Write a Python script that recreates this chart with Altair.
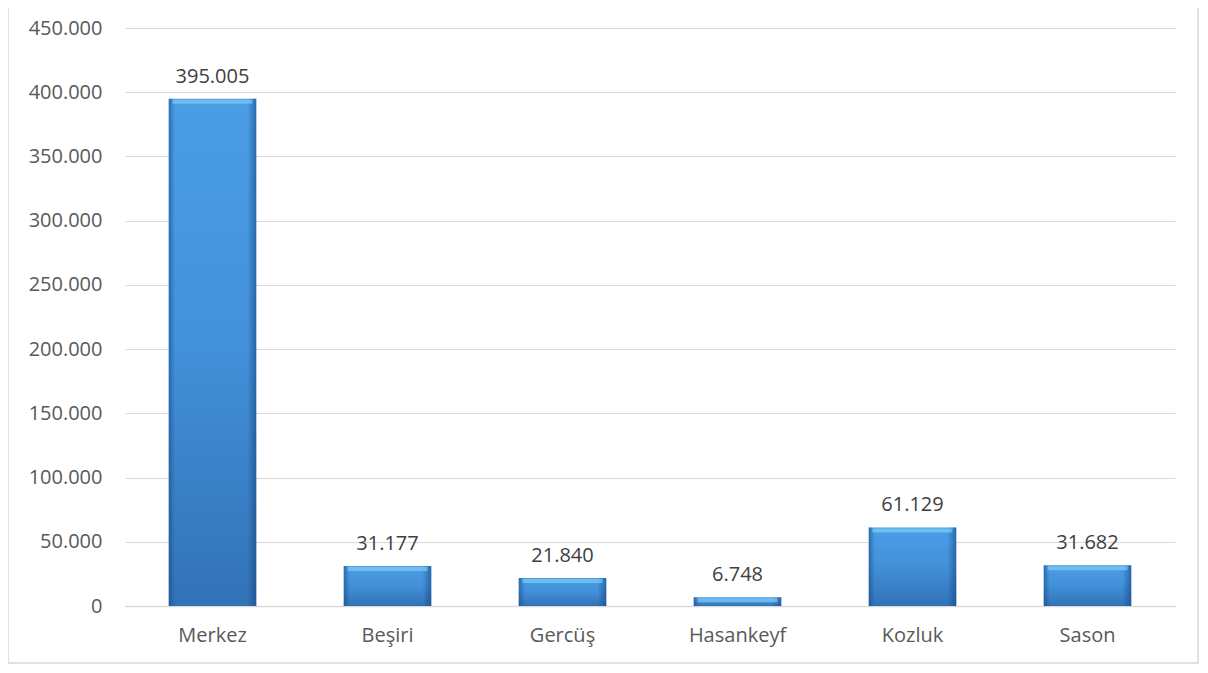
import altair as alt
import pandas as pd

categories = ["Merkez", "Beşiri", "Gercüş", "Hasankeyf", "Kozluk", "Sason"]
values = [395005, 31177, 21840, 6748, 61129, 31682]

df = pd.DataFrame({"ilce": categories, "nufus": values})

FONT = "Open Sans"
GRAY = "#595959"
FS = 20

x_enc = alt.X("ilce:N", sort=categories, title=None,
              scale=alt.Scale(paddingInner=0.5, paddingOuter=0.25),
              axis=alt.Axis(labelAngle=0, ticks=False, domainColor="#d9d9d9",
                            domainWidth=1.5, labelPadding=19, labelFontSize=FS,
                            labelColor=GRAY, labelFont=FONT))
y_enc = alt.Y("nufus:Q", title=None,
              scale=alt.Scale(domain=[0, 450000], nice=False),
              axis=alt.Axis(values=list(range(0, 450001, 50000)), format=",d",
                            ticks=False, domain=False, gridColor="#d9d9d9",
                            gridWidth=1.2,
                            labelPadding=23, labelFontSize=FS, labelColor=GRAY,
                            labelFont=FONT))

base = alt.Chart(df)

bars = base.mark_bar(
    color=alt.Gradient(
        gradient="linear", x1=0, x2=0, y1=0, y2=1,
        stops=[
            alt.GradientStop(color="#4a9ee6", offset=0),
            alt.GradientStop(color="#4290d8", offset=0.5),
            alt.GradientStop(color="#3272b6", offset=1),
        ],
    ),
).encode(x=x_enc, y=y_enc)

edges = base.mark_bar(
    color=alt.Gradient(
        gradient="linear", x1=0, x2=1, y1=0, y2=0,
        stops=[
            alt.GradientStop(color="rgba(20,70,130,0.55)", offset=0),
            alt.GradientStop(color="rgba(20,70,130,0.0)", offset=0.07),
            alt.GradientStop(color="rgba(20,70,130,0.0)", offset=0.9),
            alt.GradientStop(color="rgba(20,70,130,0.6)", offset=1),
        ],
    ),
).encode(x=alt.X("ilce:N", sort=categories), y="nufus:Q")

highlight = base.mark_tick(size=80, thickness=4, color="#8fd8f8", opacity=0.55,
                           yOffset=3).encode(
    x=alt.X("ilce:N", sort=categories), y="nufus:Q")

labels = base.mark_text(baseline="bottom", dy=-12, fontSize=FS, color="#404040",
                        font=FONT).encode(
    x=alt.X("ilce:N", sort=categories),
    y="nufus:Q",
    text=alt.Text("nufus:Q", format=",d"),
)

border = alt.Chart(pd.DataFrame({"a": [0]})).mark_rect(
    fill=None, stroke="#d9d9d9", strokeWidth=1.5
).encode(x=alt.value(-117), x2=alt.value(1073), y=alt.value(-40), y2=alt.value(635))

chart = alt.layer(border, bars, edges, highlight, labels).properties(
    width=1050, height=578,
    autosize=alt.AutoSizeParams(type="none"),
    padding={"left": 117, "top": 20, "right": 25, "bottom": 58},
    background="white",
).configure_view(stroke=None)

chart.save("out.html", embed_options={
    "renderer": "svg", "actions": False,
    "formatLocale": {"decimal": ",", "thousands": ".", "grouping": [3],
                     "currency": ["", " TL"]},
})
